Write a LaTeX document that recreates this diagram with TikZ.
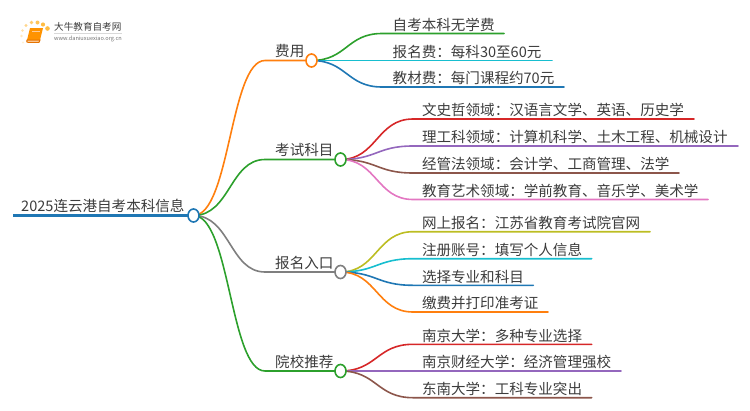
\documentclass[tikz,border=0pt]{standalone}
\usepackage{fontspec}
\setmainfont{Noto Sans CJK SC}
\usetikzlibrary{shapes.geometric,calc}
\pgfdeclarelayer{back}
\pgfsetlayers{back,main}
\definecolor{cOrange}{HTML}{FF7F0E}
\definecolor{cGreen}{HTML}{2CA02C}
\definecolor{cBlue}{HTML}{1F77B4}
\definecolor{cCyan}{HTML}{17BECF}
\definecolor{cRed}{HTML}{D62728}
\definecolor{cPurple}{HTML}{9467BD}
\definecolor{cBrown}{HTML}{8C564B}
\definecolor{cPink}{HTML}{E377C2}
\definecolor{cGray}{HTML}{7F7F7F}
\definecolor{cOlive}{HTML}{BCBD22}
\definecolor{txt}{HTML}{3C3C3C}
\definecolor{sun}{HTML}{FFB52E}
\tikzset{
  x=1pt,y=-1pt,
  label text/.style={inner sep=0pt,anchor=base west,text=txt,font=\fontsize{14.55pt}{14.55pt}\selectfont},
  hub/.style={draw=#1,fill=white,line width=1.6pt,ellipse,inner sep=0pt,minimum width=11pt,minimum height=13pt},
  link/.style={draw=#1,line width=1.6pt,line cap=round},
}
% name, colour, parent, curve end x, text x, line y, line end x, text
\newcommand{\leafitem}[8]{%
  \node[label text] (#1) at (#5,#6-3.3) {#8};
  \coordinate (#1a) at (#4,#6);
  \coordinate (#1b) at (#7,#6);
  \coordinate (#1m) at ($(#3.center)!0.5!(#1a)$);
  \begin{pgfonlayer}{back}
  \draw[link=#2] (#3.center) .. controls (#1m |- #3.center) and (#1m |- #1a) .. (#1a) -- (#1b);
  \end{pgfonlayer}
}
\begin{document}
\begin{tikzpicture}
\useasboundingbox (0,0) rectangle (750,410);
% logo
\fill[sun,opacity=.9] (47.5,28.5) circle (2.3);
\fill[sun,opacity=.9] (43,24.5) circle (2.1);
\fill[sun,opacity=.8] (37.5,22.5) circle (2);
\fill[sun,opacity=.7] (31.5,22.5) circle (1.8);
\fill[sun,opacity=.55] (26,25.5) circle (1.6);
\fill[sun,opacity=.4] (22.5,30.5) circle (1.4);
\fill[sun,opacity=.3] (21.5,36) circle (1.3);
\fill[sun,opacity=.2] (23,42.5) circle (1.2);
\fill[orange!85!yellow] (30,28) -- (43,28) -- (40,40) -- (27,40) -- cycle;
\draw[orange!90!black,line width=1pt,fill=orange!35!white] (27,40) .. controls (26.5,42) .. (28,42.3) -- (39,42.3) -- (40,40) -- cycle;
\draw[orange!40!white,line width=.5pt] (32,31) -- (40,31);
\node[inner sep=0pt,anchor=base west,text=txt,font=\fontsize{9.6pt}{9.6pt}\selectfont] (logoa) at (54,30.5) {大牛教育自考网};
\coordinate (logob) at (54,33.5);
\coordinate (logoc) at (122,33.5);
\draw[black!15,line width=.5pt] (logob) -- (logoc);
\node[inner sep=0pt,anchor=base west,text=black!55,font=\fontsize{5.6pt}{5.6pt}\selectfont] (logod) at (54,40.5) {www.daniuxuexiao.org.cn};
% root
\node[label text] (rootlabel) at (21,211.8) {2025连云港自考本科信息};
\coordinate (rootstart) at (13,215.5);
\node[hub=cBlue] (root) at (193.5,215.5) {};
% branches
\node[label text] (fee) at (275,56.8) {费用};
\node[label text] (exam) at (275,155.8) {考试科目};
\node[label text] (reg) at (275,268.3) {报名入口};
\node[label text] (school) at (275,367.3) {院校推荐};
\coordinate (feeh) at (265,60.5);
\coordinate (examh) at (265,159.5);
\coordinate (regh) at (265,272);
\coordinate (schoolh) at (265,371);
\coordinate (rootm) at (230,215.5);
\node[hub=cOrange] (feec) at (311.5,60.5) {};
\node[hub=cGreen] (examc) at (340.5,159.5) {};
\node[hub=cGray] (regc) at (340.5,272) {};
\node[hub=cGreen] (schoolc) at (340.5,371) {};
% leaves
\leafitem{a1}{cGreen}{feec}{382}{392.5}{33.5}{504}{自考本科无学费}
\leafitem{a2}{cCyan}{feec}{382}{392.5}{60.5}{552}{报名费：每科30至60元}
\leafitem{a3}{cBlue}{feec}{382}{392.5}{87}{564}{教材费：每门课程约70元}
\leafitem{b1}{cRed}{examc}{413}{421.8}{119}{694}{文史哲领域：汉语言文学、英语、历史学}
\leafitem{b2}{cPurple}{examc}{413}{421.8}{146}{738}{理工科领域：计算机科学、土木工程、机械设计}
\leafitem{b3}{cBrown}{examc}{413}{421.8}{173}{679}{经管法领域：会计学、工商管理、法学}
\leafitem{b4}{cPink}{examc}{413}{421.8}{199.5}{708}{教育艺术领域：学前教育、音乐学、美术学}
\leafitem{c1}{cOlive}{regc}{413}{421.8}{231.7}{650}{网上报名：江苏省教育考试院官网}
\leafitem{c2}{cCyan}{regc}{413}{421.8}{258.7}{591.7}{注册账号：填写个人信息}
\leafitem{c3}{cBlue}{regc}{413}{421.8}{285.3}{533.3}{选择专业和科目}
\leafitem{c4}{cOrange}{regc}{413}{421.8}{312}{548}{缴费并打印准考证}
\leafitem{d1}{cRed}{schoolc}{413}{421.8}{344.3}{591.7}{南京大学：多种专业选择}
\leafitem{d2}{cPurple}{schoolc}{413}{421.8}{371}{621}{南京财经大学：经济管理强校}
\leafitem{d3}{cBrown}{schoolc}{413}{421.8}{397.7}{591.7}{东南大学：工科专业突出}
% branch connectors
\begin{pgfonlayer}{back}
\draw[link=cOrange] (root.center) .. controls (rootm) and (rootm |- feeh) .. (feeh) -- (feec.center);
\draw[link=cGreen] (root.center) .. controls (rootm) and (rootm |- examh) .. (examh) -- (examc.center);
\draw[link=cGray] (root.center) .. controls (rootm) and (rootm |- regh) .. (regh) -- (regc.center);
\draw[link=cGreen] (root.center) .. controls (rootm) and (rootm |- schoolh) .. (schoolh) -- (schoolc.center);
\draw[cBlue,line width=2.2pt] (rootstart) -- (root.center);
\end{pgfonlayer}
\end{tikzpicture}
\end{document}
